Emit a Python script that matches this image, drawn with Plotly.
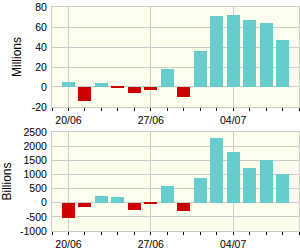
import plotly.graph_objects as go
from plotly.subplots import make_subplots

dates = ["20/06", "21/06", "22/06", "23/06", "24/06", "27/06", "28/06",
         "29/06", "30/06", "01/07", "04/07", "05/07", "06/07", "07/07"]
millions = [5.5, -14.5, 4.5, -1, -6.5, -3.5, 18, -10, 36, 71, 72, 67, 64, 47]
billions = [-550, -165, 225, 190, -270, -30, 600, -305, 880, 2290, 1800, 1235, 1517, 1023]

top_ticks = [-20, 0, 20, 40, 60, 80]
top_ticktext = ["-20", "0", "20", "40", "60", "80"]
bot_ticks = [-1000, -500, 0, 500, 1000, 1500, 2000, 2500]
bot_ticktext = ["-1000", "-500", "0", "500", "1000", "1500", "2000", "2500"]
label_idx = [0, 5, 10]

POS = "#66CCCC"
NEG = "#CC0000"
GRID = "#CCCCCC"
BG = "#FFFFEE"
FONT = "Liberation Sans, Arial, sans-serif"

x = list(range(len(dates)))

fig = make_subplots(rows=2, cols=1, vertical_spacing=0.1)
fig.add_trace(go.Bar(x=x, y=millions, width=0.79,
                     marker=dict(color=[POS if v >= 0 else NEG for v in millions], line_width=0)),
              row=1, col=1)
fig.add_trace(go.Bar(x=x, y=billions, width=0.79,
                     marker=dict(color=[POS if v >= 0 else NEG for v in billions], line_width=0)),
              row=2, col=1)

xcommon = dict(range=[-1, 14], tickmode="array", tickvals=label_idx,
               ticktext=[dates[i] for i in label_idx],
               showgrid=True, gridcolor=GRID, gridwidth=1,
               showline=True, linecolor=GRID, linewidth=1, mirror=True,
               ticks="outside", ticklen=3, tickcolor="#000000", tickwidth=1,
               minor=dict(tick0=0, dtick=1, ticks="outside", ticklen=3,
                          tickcolor="#000000", tickwidth=1, showgrid=False),
               zeroline=False, tickfont=dict(family=FONT, size=10.5, color="#000000"),
               fixedrange=True)
fig.update_xaxes(**xcommon, row=1, col=1)
fig.update_xaxes(**xcommon, row=2, col=1)

ycommon = dict(showgrid=True, gridcolor=GRID, gridwidth=1,
               showline=True, linecolor=GRID, linewidth=1, mirror=True,
               ticks="", zeroline=False, tickfont=dict(family=FONT, size=10.5, color="#000000"),
               ticklabelstandoff=2, title_standoff=7,
               title_font=dict(family=FONT, size=12, color="#000000"))
fig.update_yaxes(**ycommon, range=[-20, 80], tickmode="array", tickvals=top_ticks,
                 ticktext=top_ticktext, title_text="Millions", domain=[0.5536, 1.0], row=1, col=1)
fig.update_yaxes(**ycommon, range=[-1000, 2500], tickmode="array", tickvals=bot_ticks,
                 ticktext=bot_ticktext, title_text="Billions", domain=[0.0, 0.442], row=2, col=1)

fig.update_layout(width=300, height=250, margin=dict(l=52, r=1, t=7, b=19),
                  showlegend=False, plot_bgcolor=BG, paper_bgcolor="#FFFFFF",
                  font=dict(family=FONT, color="#000000"), bargap=0)

fig.write_html("out.html", config={"displayModeBar": False})
